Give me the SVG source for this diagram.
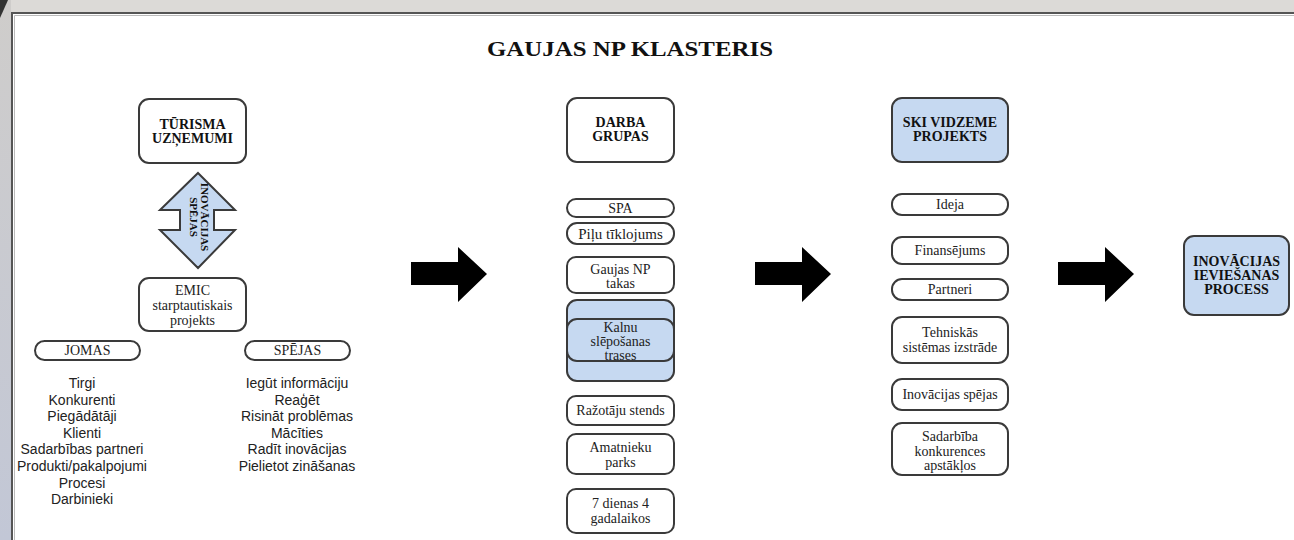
<svg xmlns="http://www.w3.org/2000/svg" width="1294" height="540" viewBox="0 0 1294 540">
<defs>
<linearGradient id="lg" x1="0" y1="0" x2="0" y2="1">
<stop offset="0" stop-color="#cfcdcb"/>
<stop offset="1" stop-color="#c2c7d6"/>
</linearGradient>
<style>
.box{fill:#fff;stroke:#3a3a3a;stroke-width:2}
.blue{fill:#c6d9f1;stroke:#3a3a3a;stroke-width:2}
.hd{font-family:"Liberation Serif",serif;font-weight:bold;font-size:14px;fill:#111;text-anchor:middle}
.sr{font-family:"Liberation Serif",serif;font-size:14px;fill:#222;text-anchor:middle}
.ls{font-family:"Liberation Sans",Arial,sans-serif;font-size:14px;fill:#222;text-anchor:middle}
.blk{fill:#000}
</style>
</defs>
<rect x="0" y="0" width="1294" height="540" fill="#fff"/>
<rect x="0" y="0" width="1294" height="12" fill="#dcdad7"/>
<rect x="0" y="0" width="11" height="540" fill="url(#lg)"/>
<polygon points="0,0 8,0 0,18" fill="#333"/>
<path d="M12,540 V13 H1294" fill="none" stroke="#555" stroke-width="2"/>
<path d="M14.5,540 V15.5 H1294" fill="none" stroke="#bbb" stroke-width="1"/>

<text x="630" y="56" font-family="Liberation Serif, serif" font-weight="bold" font-size="22" fill="#111" text-anchor="middle" textLength="286" lengthAdjust="spacingAndGlyphs">GAUJAS NP KLASTERIS</text>

<g id="turisma">
<rect class="box" x="139" y="99" width="107" height="64" rx="10"/>
<text class="hd" x="192.5" y="129">TŪRISMA</text>
<text class="hd" x="192.5" y="143">UZŅEMUMI</text>
</g>

<g id="inovacijas-spejas">
<path class="blue" d="M198,173 L235,210 L214,210 L214,230 L235,230 L198,268 L160,230 L180,230 L180,210 L160,210 Z"/>
<g transform="translate(199,217) rotate(90)">
<text x="0" y="-2" font-family="Liberation Serif, serif" font-weight="bold" font-size="11" fill="#111" text-anchor="middle">INOVĀCIJAS</text>
<text x="0" y="9" font-family="Liberation Serif, serif" font-weight="bold" font-size="11" fill="#111" text-anchor="middle">SPĒJAS</text>
</g>
</g>

<g id="emic">
<rect class="box" x="139" y="278" width="107" height="53" rx="10"/>
<text class="sr" x="192.5" y="295">EMIC</text>
<text class="sr" x="192.5" y="310">starptautiskais</text>
<text class="sr" x="192.5" y="325">projekts</text>
</g>

<g id="jomas">
<rect class="box" x="35" y="341" width="105" height="19" rx="9.5"/>
<text class="sr" x="87.5" y="355">JOMAS</text>
<text class="ls" x="82" y="388">Tirgi</text>
<text class="ls" x="82" y="404.6">Konkurenti</text>
<text class="ls" x="82" y="421.2">Piegādātāji</text>
<text class="ls" x="82" y="437.8">Klienti</text>
<text class="ls" x="82" y="454.4">Sadarbības partneri</text>
<text class="ls" x="82" y="471">Produkti/pakalpojumi</text>
<text class="ls" x="82" y="487.6">Procesi</text>
<text class="ls" x="82" y="504.2">Darbinieki</text>
</g>

<g id="spejas">
<rect class="box" x="245" y="341" width="105" height="19" rx="9.5"/>
<text class="sr" x="297.5" y="355">SPĒJAS</text>
<text class="ls" x="297" y="388">Iegūt informāciju</text>
<text class="ls" x="297" y="404.6">Reaģēt</text>
<text class="ls" x="297" y="421.2">Risināt problēmas</text>
<text class="ls" x="297" y="437.8">Mācīties</text>
<text class="ls" x="297" y="454.4">Radīt inovācijas</text>
<text class="ls" x="297" y="471">Pielietot zināšanas</text>
</g>

<g id="darba-grupas">
<rect class="box" x="567" y="98" width="107" height="64" rx="10"/>
<text class="hd" x="620.5" y="127">DARBA</text>
<text class="hd" x="620.5" y="141">GRUPAS</text>
</g>
<g id="spa">
<rect class="box" x="567" y="199" width="107" height="18" rx="9"/>
<text class="sr" x="620.5" y="213">SPA</text>
</g>
<g id="pilu">
<rect class="box" x="567" y="223" width="107" height="21" rx="10"/>
<text class="sr" x="620.5" y="238.5" style="font-size:15px">Piļu tīklojums</text>
</g>
<g id="gaujas-takas">
<rect class="box" x="567" y="257" width="107" height="36" rx="9"/>
<text class="sr" x="620.5" y="274">Gaujas NP</text>
<text class="sr" x="620.5" y="288">takas</text>
</g>
<g id="kalnu">
<rect class="blue" x="567" y="300" width="107" height="81" rx="10"/>
<rect class="blue" x="567" y="319" width="107" height="42" rx="10"/>
<text class="sr" x="620.5" y="332">Kalnu</text>
<text class="sr" x="620.5" y="346">slēpošanas</text>
<text class="sr" x="620.5" y="360">trases</text>
</g>
<g id="razotaju">
<rect class="box" x="567" y="396" width="107" height="29" rx="9"/>
<text class="sr" x="620.5" y="415">Ražotāju stends</text>
</g>
<g id="amatnieku">
<rect class="box" x="567" y="434" width="107" height="40" rx="9"/>
<text class="sr" x="620.5" y="452">Amatnieku</text>
<text class="sr" x="620.5" y="467">parks</text>
</g>
<g id="dienas">
<rect class="box" x="567" y="489" width="107" height="44" rx="9"/>
<text class="sr" x="620.5" y="508">7 dienas 4</text>
<text class="sr" x="620.5" y="523">gadalaikos</text>
</g>

<g id="ski-vidzeme">
<rect class="blue" x="892" y="98" width="116" height="64" rx="10"/>
<text class="hd" x="950" y="127">SKI VIDZEME</text>
<text class="hd" x="950" y="141">PROJEKTS</text>
</g>
<g id="ideja">
<rect class="box" x="892" y="194" width="116" height="21" rx="10"/>
<text class="sr" x="950" y="209">Ideja</text>
</g>
<g id="finansejums">
<rect class="box" x="892" y="237" width="116" height="27" rx="10"/>
<text class="sr" x="950" y="255">Finansējums</text>
</g>
<g id="partneri">
<rect class="box" x="892" y="279" width="116" height="21" rx="10"/>
<text class="sr" x="950" y="294">Partneri</text>
</g>
<g id="tehniskas">
<rect class="box" x="892" y="317" width="116" height="46" rx="10"/>
<text class="sr" x="950" y="337">Tehniskās</text>
<text class="sr" x="950" y="352">sistēmas izstrāde</text>
</g>
<g id="inovacijas-spejas-box">
<rect class="box" x="892" y="379" width="116" height="31" rx="10"/>
<text class="sr" x="950" y="399">Inovācijas spējas</text>
</g>
<g id="sadarbiba">
<rect class="box" x="892" y="423" width="116" height="52" rx="10"/>
<text class="sr" x="950" y="441">Sadarbība</text>
<text class="sr" x="950" y="456">konkurences</text>
<text class="sr" x="950" y="470">apstākļos</text>
</g>

<g id="process">
<rect class="blue" x="1184" y="236" width="105" height="79" rx="10"/>
<text class="hd" x="1236.5" y="266">INOVĀCIJAS</text>
<text class="hd" x="1236.5" y="280">IEVIEŠANAS</text>
<text class="hd" x="1236.5" y="294">PROCESS</text>
</g>

<g id="connectors">
<path class="blk" d="M411,262 L458,262 L458,247 L487,274 L458,302 L458,285 L411,285 Z"/>
<path class="blk" transform="translate(344,0)" d="M411,262 L458,262 L458,247 L487,274 L458,302 L458,285 L411,285 Z"/>
<path class="blk" transform="translate(647,0)" d="M411,262 L458,262 L458,247 L487,274 L458,302 L458,285 L411,285 Z"/>
</g>
</svg>
